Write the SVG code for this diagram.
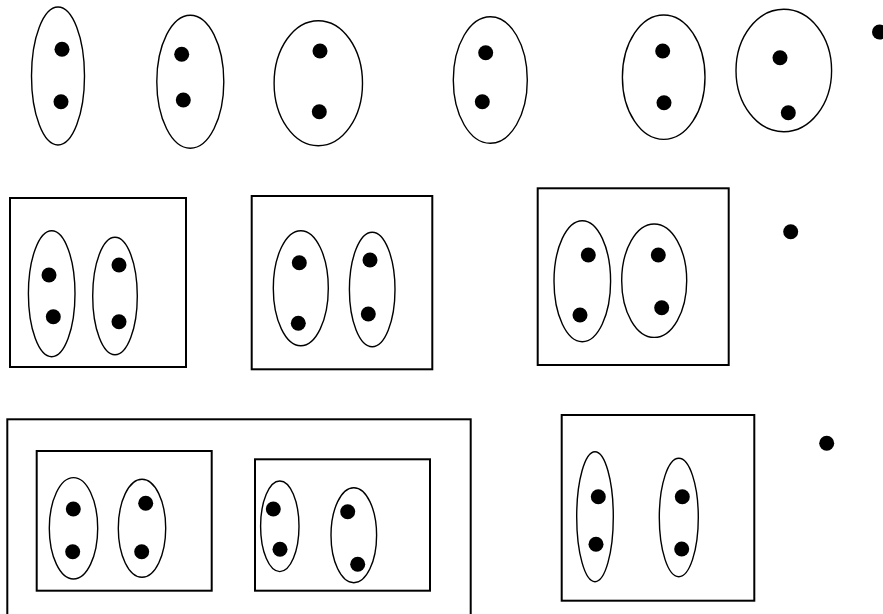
<svg xmlns="http://www.w3.org/2000/svg" width="883" height="614" viewBox="0 0 883 614">
<style>
.e{fill:none;stroke:#000;stroke-width:1.4}
.r{fill:none;stroke:#000;stroke-width:2}
.d{fill:#000}
</style>
<rect width="883" height="614" fill="#fff"/>
<g id="row1">
<g id="pair1"><ellipse class="e" cx="58" cy="76" rx="26.5" ry="69"/><circle class="d" cx="62" cy="49.3" r="7.5"/><circle class="d" cx="61" cy="101.7" r="7.5"/></g>
<g id="pair2"><ellipse class="e" cx="190.3" cy="81.7" rx="33.5" ry="66.5"/><circle class="d" cx="181.7" cy="54.3" r="7.5"/><circle class="d" cx="183.3" cy="100" r="7.5"/></g>
<g id="pair3"><ellipse class="e" cx="318.3" cy="83.2" rx="44.2" ry="62.5"/><circle class="d" cx="320" cy="51" r="7.5"/><circle class="d" cx="319.3" cy="111.7" r="7.5"/></g>
<g id="pair4"><ellipse class="e" cx="490.3" cy="80" rx="37" ry="63.3"/><circle class="d" cx="485.7" cy="52.7" r="7.5"/><circle class="d" cx="482.3" cy="101.7" r="7.5"/></g>
<g id="pair5"><ellipse class="e" cx="663.7" cy="77.2" rx="41.3" ry="62.2"/><circle class="d" cx="662.7" cy="51" r="7.5"/><circle class="d" cx="664" cy="102.7" r="7.5"/></g>
<g id="pair6"><ellipse class="e" cx="783.8" cy="70.5" rx="47.8" ry="61.2"/><circle class="d" cx="780" cy="57.7" r="7.5"/><circle class="d" cx="788.3" cy="112.7" r="7.5"/></g>
<g id="single1"><circle class="d" cx="879.5" cy="32" r="7.5"/></g>
</g>
<g id="row2">
<g id="box1"><rect class="r" x="10" y="198" width="176" height="169"/>
<ellipse class="e" cx="51.7" cy="293.7" rx="23.3" ry="63"/><circle class="d" cx="49" cy="275" r="7.5"/><circle class="d" cx="53.3" cy="316.7" r="7.5"/>
<ellipse class="e" cx="115" cy="296" rx="22.3" ry="58.8"/><circle class="d" cx="119" cy="265" r="7.5"/><circle class="d" cx="119" cy="321.7" r="7.5"/></g>
<g id="box2"><rect class="r" x="251.7" y="196" width="180.6" height="173.3"/>
<ellipse class="e" cx="300.8" cy="288.2" rx="27.5" ry="57.5"/><circle class="d" cx="299.3" cy="262.7" r="7.5"/><circle class="d" cx="298.3" cy="323.3" r="7.5"/>
<ellipse class="e" cx="372.2" cy="289.5" rx="22.8" ry="57.2"/><circle class="d" cx="370" cy="260" r="7.5"/><circle class="d" cx="368.3" cy="314" r="7.5"/></g>
<g id="box3"><rect class="r" x="537.7" y="188.3" width="191" height="176.7"/>
<ellipse class="e" cx="582.3" cy="281.2" rx="28.3" ry="60.5"/><circle class="d" cx="588.3" cy="255" r="7.5"/><circle class="d" cx="580" cy="315" r="7.5"/>
<ellipse class="e" cx="654.2" cy="280.7" rx="32.5" ry="56.7"/><circle class="d" cx="658.3" cy="255" r="7.5"/><circle class="d" cx="661.7" cy="307.7" r="7.5"/></g>
<g id="single2"><circle class="d" cx="790.7" cy="231.7" r="7.5"/></g>
</g>
<g id="row3">
<g id="bigbox"><rect class="r" x="7.3" y="419.3" width="463.4" height="210"/>
<g id="box4"><rect class="r" x="36.7" y="451" width="175" height="139.7"/>
<ellipse class="e" cx="73.5" cy="528.3" rx="24.2" ry="50.7"/><circle class="d" cx="73.3" cy="509" r="7.5"/><circle class="d" cx="72.7" cy="551.7" r="7.5"/>
<ellipse class="e" cx="142" cy="528.3" rx="23.7" ry="49"/><circle class="d" cx="145.7" cy="503.3" r="7.5"/><circle class="d" cx="141.7" cy="551.7" r="7.5"/></g>
<g id="box5"><rect class="r" x="255" y="459.3" width="175" height="131.4"/>
<ellipse class="e" cx="279.8" cy="526.3" rx="19.2" ry="45.3"/><circle class="d" cx="273.3" cy="509" r="7.5"/><circle class="d" cx="280" cy="549.3" r="7.5"/>
<ellipse class="e" cx="353.8" cy="535.2" rx="22.8" ry="47.5"/><circle class="d" cx="347.7" cy="511.7" r="7.5"/><circle class="d" cx="357.7" cy="564.3" r="7.5"/></g>
</g>
<g id="box6"><rect class="r" x="561.7" y="415" width="192.6" height="185.7"/>
<ellipse class="e" cx="595" cy="516.7" rx="18.3" ry="65"/><circle class="d" cx="598.3" cy="496.7" r="7.5"/><circle class="d" cx="596" cy="544.3" r="7.5"/>
<ellipse class="e" cx="678.8" cy="517.5" rx="19.5" ry="59.2"/><circle class="d" cx="682.3" cy="496.7" r="7.5"/><circle class="d" cx="681.7" cy="549" r="7.5"/></g>
<g id="single3"><circle class="d" cx="826.7" cy="443.3" r="7.5"/></g>
</g>
<g id="connectors"/>
</svg>
